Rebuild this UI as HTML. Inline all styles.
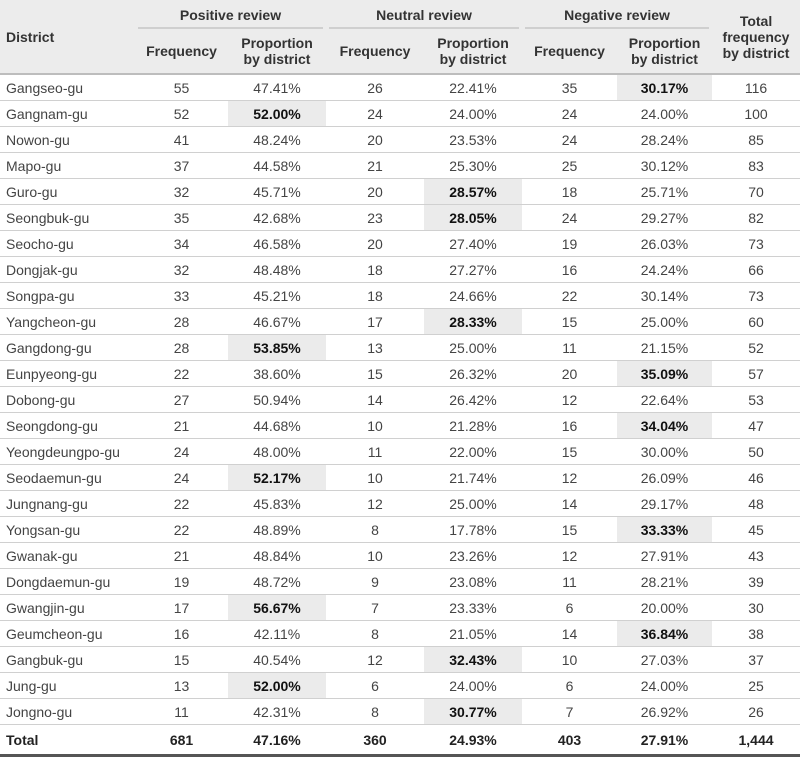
<!DOCTYPE html>
<html><head><style>
body{margin:0;background:#fff;font-family:"Liberation Sans",Arial,sans-serif;}
table{border-collapse:collapse;width:800px;table-layout:fixed;font-size:14px;color:#444;}
th{background:#ececec;color:#333;font-weight:bold;font-size:14px;line-height:16px;padding:0;}
td{height:25px;padding:0;text-align:center;border-bottom:1px solid #d0d0d0;}
td:first-child{text-align:left;padding-left:6px;}
tr.h1 th{height:29px;}
tr.h2 th{height:44px;border-bottom:2px solid #bdbdbd;}
th.g{position:relative;}
th.g:after{content:"";position:absolute;left:3px;right:3px;bottom:0;height:2px;background:#cfcfcf;}
td.hl{background:#ebebeb;color:#111;font-weight:bold;}
tr.tot td{font-weight:bold;color:#222;border-bottom:3px solid #555;height:29px;}
</style></head><body>
<table>
<colgroup><col style="width:135px"><col style="width:93px"><col style="width:98px"><col style="width:98px"><col style="width:98px"><col style="width:95px"><col style="width:95px"><col style="width:88px"></colgroup>
<tr class="h1"><th rowspan="2" style="text-align:left;padding-left:6px;border-bottom:2px solid #bdbdbd;vertical-align:middle">District</th><th colspan="2" class="g">Positive review</th><th colspan="2" class="g">Neutral review</th><th colspan="2" class="g">Negative review</th><th rowspan="2" style="border-bottom:2px solid #bdbdbd">Total<br>frequency<br>by district</th></tr>
<tr class="h2"><th>Frequency</th><th>Proportion<br>by district</th><th>Frequency</th><th>Proportion<br>by district</th><th>Frequency</th><th>Proportion<br>by district</th></tr>
<tr><td>Gangseo-gu</td><td>55</td><td>47.41%</td><td>26</td><td>22.41%</td><td>35</td><td class="hl">30.17%</td><td>116</td></tr>
<tr><td>Gangnam-gu</td><td>52</td><td class="hl">52.00%</td><td>24</td><td>24.00%</td><td>24</td><td>24.00%</td><td>100</td></tr>
<tr><td>Nowon-gu</td><td>41</td><td>48.24%</td><td>20</td><td>23.53%</td><td>24</td><td>28.24%</td><td>85</td></tr>
<tr><td>Mapo-gu</td><td>37</td><td>44.58%</td><td>21</td><td>25.30%</td><td>25</td><td>30.12%</td><td>83</td></tr>
<tr><td>Guro-gu</td><td>32</td><td>45.71%</td><td>20</td><td class="hl">28.57%</td><td>18</td><td>25.71%</td><td>70</td></tr>
<tr><td>Seongbuk-gu</td><td>35</td><td>42.68%</td><td>23</td><td class="hl">28.05%</td><td>24</td><td>29.27%</td><td>82</td></tr>
<tr><td>Seocho-gu</td><td>34</td><td>46.58%</td><td>20</td><td>27.40%</td><td>19</td><td>26.03%</td><td>73</td></tr>
<tr><td>Dongjak-gu</td><td>32</td><td>48.48%</td><td>18</td><td>27.27%</td><td>16</td><td>24.24%</td><td>66</td></tr>
<tr><td>Songpa-gu</td><td>33</td><td>45.21%</td><td>18</td><td>24.66%</td><td>22</td><td>30.14%</td><td>73</td></tr>
<tr><td>Yangcheon-gu</td><td>28</td><td>46.67%</td><td>17</td><td class="hl">28.33%</td><td>15</td><td>25.00%</td><td>60</td></tr>
<tr><td>Gangdong-gu</td><td>28</td><td class="hl">53.85%</td><td>13</td><td>25.00%</td><td>11</td><td>21.15%</td><td>52</td></tr>
<tr><td>Eunpyeong-gu</td><td>22</td><td>38.60%</td><td>15</td><td>26.32%</td><td>20</td><td class="hl">35.09%</td><td>57</td></tr>
<tr><td>Dobong-gu</td><td>27</td><td>50.94%</td><td>14</td><td>26.42%</td><td>12</td><td>22.64%</td><td>53</td></tr>
<tr><td>Seongdong-gu</td><td>21</td><td>44.68%</td><td>10</td><td>21.28%</td><td>16</td><td class="hl">34.04%</td><td>47</td></tr>
<tr><td>Yeongdeungpo-gu</td><td>24</td><td>48.00%</td><td>11</td><td>22.00%</td><td>15</td><td>30.00%</td><td>50</td></tr>
<tr><td>Seodaemun-gu</td><td>24</td><td class="hl">52.17%</td><td>10</td><td>21.74%</td><td>12</td><td>26.09%</td><td>46</td></tr>
<tr><td>Jungnang-gu</td><td>22</td><td>45.83%</td><td>12</td><td>25.00%</td><td>14</td><td>29.17%</td><td>48</td></tr>
<tr><td>Yongsan-gu</td><td>22</td><td>48.89%</td><td>8</td><td>17.78%</td><td>15</td><td class="hl">33.33%</td><td>45</td></tr>
<tr><td>Gwanak-gu</td><td>21</td><td>48.84%</td><td>10</td><td>23.26%</td><td>12</td><td>27.91%</td><td>43</td></tr>
<tr><td>Dongdaemun-gu</td><td>19</td><td>48.72%</td><td>9</td><td>23.08%</td><td>11</td><td>28.21%</td><td>39</td></tr>
<tr><td>Gwangjin-gu</td><td>17</td><td class="hl">56.67%</td><td>7</td><td>23.33%</td><td>6</td><td>20.00%</td><td>30</td></tr>
<tr><td>Geumcheon-gu</td><td>16</td><td>42.11%</td><td>8</td><td>21.05%</td><td>14</td><td class="hl">36.84%</td><td>38</td></tr>
<tr><td>Gangbuk-gu</td><td>15</td><td>40.54%</td><td>12</td><td class="hl">32.43%</td><td>10</td><td>27.03%</td><td>37</td></tr>
<tr><td>Jung-gu</td><td>13</td><td class="hl">52.00%</td><td>6</td><td>24.00%</td><td>6</td><td>24.00%</td><td>25</td></tr>
<tr><td>Jongno-gu</td><td>11</td><td>42.31%</td><td>8</td><td class="hl">30.77%</td><td>7</td><td>26.92%</td><td>26</td></tr>
<tr class="tot"><td>Total</td><td>681</td><td>47.16%</td><td>360</td><td>24.93%</td><td>403</td><td>27.91%</td><td>1,444</td></tr>
</table>
</body></html>
